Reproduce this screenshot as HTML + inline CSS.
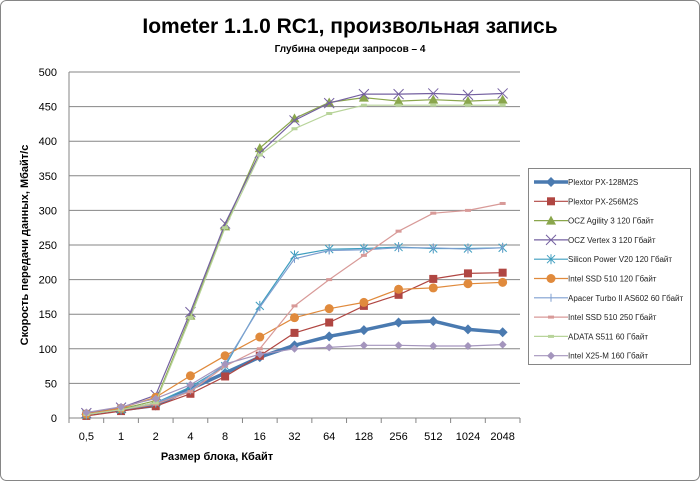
<!DOCTYPE html>
<html><head><meta charset="utf-8"><style>
body{margin:0;background:#fff;}
svg{display:block;font-family:"Liberation Sans","DejaVu Sans",sans-serif;}
</style></head><body>
<svg id="s" width="700" height="481" xmlns="http://www.w3.org/2000/svg">
<rect x="0.5" y="0.5" width="699" height="480" rx="6" fill="#fff" stroke="#868686"/>
<text x="350" y="33" font-size="21" font-weight="bold" text-anchor="middle">Iometer 1.1.0 RC1, произвольная запись</text>
<text x="350" y="52" font-size="10" font-weight="bold" text-anchor="middle">Глубина очереди запросов – 4</text>
<text x="217" y="460" font-size="11" font-weight="bold" text-anchor="middle">Размер блока, Кбайт</text>
<text transform="translate(28,245) rotate(-90)" font-size="11" font-weight="bold" text-anchor="middle">Скорость передачи данных, Мбайт/с</text>
<g id="g"></g>
<rect x="528.5" y="168.5" width="162" height="196" fill="#fff" stroke="#868686"/>
<g id="l"></g>
</svg>
<script>
var g=document.getElementById('g'),l=document.getElementById('l'),h='';
var X0=69,X1=520,Y0=418,k=0.692,cw=(X1-X0)/13;
function x(i){return X0+cw*(i+0.5)}function y(v){return Y0-v*k}
for(var v=0;v<=500;v+=50){var yy=y(v).toFixed(1);h+='<line x1="'+X0+'" x2="'+X1+'" y1="'+yy+'" y2="'+yy+'" stroke="#868686"/>';
h+='<text x="57" y="'+(+yy+4)+'" font-size="11" text-anchor="end">'+v+'</text>';}
h+='<line x1="'+X0+'" x2="'+X0+'" y1="'+y(500)+'" y2="'+Y0+'" stroke="#868686"/>';
var cats=['0,5','1','2','4','8','16','32','64','128','256','512','1024','2048'];
cats.forEach(function(c,i){h+='<line x1="'+(X0+cw*i)+'" x2="'+(X0+cw*i)+'" y1="418" y2="423" stroke="#868686"/><text x="'+x(i)+'" y="440" font-size="11" text-anchor="middle">'+c+'</text>';});
h+='<line x1="'+X1+'" x2="'+X1+'" y1="418" y2="423" stroke="#868686"/>';
var S=[
['Plextor PX-128M2S','#4a7ab0',3.5,'dia',[5,12,18,42,65,88,105,118,127,138,140,128,124]],
['Plextor PX-256M2S','#b04642',1.2,'sq',[3,10,17,35,60,90,123,138,162,178,201,209,210]],
['OCZ Agility 3 120 Гбайт','#8aa64c',1.2,'tri',[5,13,25,148,277,390,433,456,463,458,460,458,460]],
['OCZ Vertex 3 120 Гбайт','#7460a0',1.2,'x',[7,15,33,153,281,383,430,455,468,468,469,467,469]],
['Silicon Power V20 120 Гбайт','#3f9ebf',1.2,'star',[5,12,22,45,75,162,235,244,245,247,245,245,246]],
['Intel SSD 510 120 Гбайт','#e08a3c',1.2,'circ',[6,14,30,61,90,117,145,158,167,186,188,194,196]],
['Apacer Turbo II AS602 60 Гбайт','#7f9fd0',1.2,'plus',[5,12,22,40,78,160,230,242,243,246,246,244,246]],
['Intel SSD 510 250 Гбайт','#d89a98',1.2,'dash',[5,12,20,38,75,100,162,200,235,270,296,300,310]],
['ADATA S511 60 Гбайт','#b8d49a',1.2,'dash',[5,12,22,145,275,380,418,440,452,452,452,452,452]],
['Intel X25-M 160 Гбайт','#a495bd',1.2,'dia',[8,16,28,48,78,92,100,102,105,105,104,104,106]]];
function mk(t,cx,cy,c,big){var r=big?5:4;
if(t=='dia')return '<path d="M'+cx+' '+(cy-r)+'L'+(cx+r)+' '+cy+'L'+cx+' '+(cy+r)+'L'+(cx-r)+' '+cy+'Z" fill="'+c+'"/>';
if(t=='sq')return '<rect x="'+(cx-4)+'" y="'+(cy-4)+'" width="8" height="8" fill="'+c+'"/>';
if(t=='tri')return '<path d="M'+cx+' '+(cy-5)+'L'+(cx+5)+' '+(cy+4)+'L'+(cx-5)+' '+(cy+4)+'Z" fill="'+c+'"/>';
if(t=='x')return '<path d="M'+(cx-5)+' '+(cy-5)+'L'+(cx+5)+' '+(cy+5)+'M'+(cx+5)+' '+(cy-5)+'L'+(cx-5)+' '+(cy+5)+'" stroke="'+c+'"/>';
if(t=='star')return '<path d="M'+(cx-4)+' '+(cy-4)+'L'+(cx+4)+' '+(cy+4)+'M'+(cx+4)+' '+(cy-4)+'L'+(cx-4)+' '+(cy+4)+'M'+cx+' '+(cy-5)+'V'+(cy+5)+'" stroke="'+c+'"/>';
if(t=='circ')return '<circle cx="'+cx+'" cy="'+cy+'" r="4.5" fill="'+c+'"/>';
if(t=='plus')return '<path d="M'+cx+' '+(cy-4)+'V'+(cy+4)+'" stroke="'+c+'"/>';
return '<rect x="'+(cx-3)+'" y="'+(cy-1.5)+'" width="6" height="3" fill="'+c+'"/>';}
var lh='';
S.forEach(function(s,j){var p=s[4].map(function(v,i){return x(i).toFixed(1)+','+y(v).toFixed(1)}).join(' ');
h+='<polyline points="'+p+'" fill="none" stroke="'+s[1]+'" stroke-width="'+s[2]+'" stroke-linejoin="round"/>';
s[4].forEach(function(v,i){h+=mk(s[3],x(i),y(v),s[1],j==0)});
var ly=182+j*19.3;lh+='<line x1="534" x2="568" y1="'+ly+'" y2="'+ly+'" stroke="'+s[1]+'" stroke-width="'+s[2]+'"/>'+mk(s[3],551,ly,s[1],j==0)+'<text x="568" y="'+(ly+3)+'" font-size="8" fill="#222">'+s[0]+'</text>';});
g.innerHTML=h;l.innerHTML=lh;
</script>
</body></html>
